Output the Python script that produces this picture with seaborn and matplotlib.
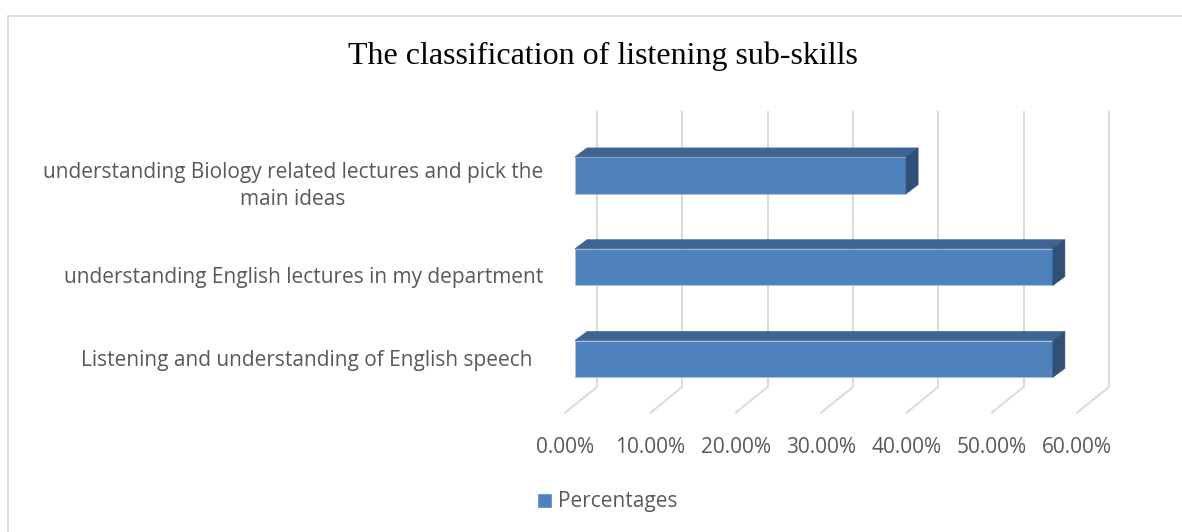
import matplotlib
matplotlib.use("Agg")
import matplotlib.pyplot as plt
import matplotlib.ticker as mticker
from matplotlib.patches import Polygon, Rectangle, Patch
from matplotlib.transforms import offset_copy, ScaledTranslation
import numpy as np
import pandas as pd
import seaborn as sns

# Survey data
skills = [
    "understanding Biology related lectures and pick the\nmain ideas",
    "understanding English lectures in my department",
    "Listening and understanding of English speech",
]
percentages = [0.388, 0.56, 0.56]
series_name = "Percentages"
chart_title = "The classification of listening sub-skills"

BAR_FRONT = "#4F81BD"
BAR_TOP = "#3E6591"
BAR_SIDE = "#2F5077"
GRID = "#D9D9D9"
TEXT = "#595959"
FS = 15

sns.set_theme(style="white")
plt.rcParams["font.family"] = ["Open Sans", "DejaVu Sans"]

W, H, DPI = 1182, 532, 100
fig = plt.figure(figsize=(W / DPI, H / DPI), dpi=DPI)
fig.patch.set_facecolor("white")

# chart-area border (light gray frame)
fig.patches.append(Rectangle((8 / W, -0.2), 1.2, 1.2 - 16 / H,
                             transform=fig.transFigure, fill=False,
                             edgecolor=GRID, linewidth=1.3, zorder=0))

# axes = front plane of the bars
ax = fig.add_axes([575 / W, 1 - 404.8 / H, 512 / W, 275.4 / H])
ax.set_facecolor("none")

df = pd.DataFrame({"skill": skills, "value": percentages})
sns.barplot(data=df, y="skill", x="value", orient="h", width=0.4,
            color=BAR_FRONT, saturation=1, ax=ax, zorder=3,
            edgecolor="#A9C1DF", linewidth=0.6)

ax.set_xlim(0, 0.6)
ax.set_ylim(2.5, -0.5)
ax.set_xticks(np.arange(0, 0.61, 0.1))
ax.xaxis.set_major_formatter(mticker.PercentFormatter(xmax=1, decimals=2))
ax.set_xlabel("")
ax.set_ylabel("")
for s in ax.spines.values():
    s.set_visible(False)
ax.grid(False)
ax.tick_params(axis="both", length=0)
ax.tick_params(axis="x", pad=23, labelsize=FS, labelcolor=TEXT)
ax.tick_params(axis="y", pad=23, labelsize=FS, labelcolor=TEXT)

# depth offsets in pixels
BACK_DX, BACK_DY = 22, 18      # back wall relative to bar front plane
FRONT_DX, FRONT_DY = -10, -8   # front edge of the floor
BAR_DX, BAR_DY = 12, 9         # bar depth

back_tr = offset_copy(ax.transData, fig, x=BACK_DX, y=BACK_DY, units="dots")
ymin, ymax = ax.get_ylim()
for xv in ax.get_xticks():
    # vertical gridline on the back wall
    ax.plot([xv, xv], [ymin, ymax], color=GRID, lw=1.4, transform=back_tr,
            zorder=0, clip_on=False, solid_capstyle="butt")
    # diagonal gridline across the floor
    p_back = ax.transData.transform((xv, ymin)) + [BACK_DX, BACK_DY]
    p_front = ax.transData.transform((xv, ymin)) + [FRONT_DX, FRONT_DY]
    pts = ax.transData.inverted().transform([p_back, p_front])
    ax.plot(pts[:, 0], pts[:, 1], color=GRID, lw=1.4, zorder=0, clip_on=False)

# shift x tick labels to the front edge of the floor
for lab in ax.get_xticklabels():
    lab.set_transform(lab.get_transform() +
                      ScaledTranslation(FRONT_DX / DPI, 0, fig.dpi_scale_trans))

# category labels
ylab_offsets = [(0, -5), (0, -8), (-11, 1)]
for lab, (dx, dy) in zip(ax.get_yticklabels(), ylab_offsets):
    lab.set_multialignment("center")
    lab.set_linespacing(1.4)
    lab.set_transform(lab.get_transform() +
                      ScaledTranslation(dx / DPI, dy / DPI, fig.dpi_scale_trans))

# 3D faces of the bars
inv = ax.transData.inverted()
for p in list(ax.patches):
    x0, y0 = p.get_x(), p.get_y()
    x1, y1 = x0 + p.get_width(), y0 + p.get_height()
    ytop = min(y0, y1)
    ybot = max(y0, y1)
    ftl = ax.transData.transform((x0, ytop))
    ftr = ax.transData.transform((x1, ytop))
    fbr = ax.transData.transform((x1, ybot))
    d = np.array([BAR_DX, BAR_DY])
    top = inv.transform([ftl, ftr, ftr + d, ftl + d])
    side = inv.transform([ftr, fbr, fbr + d, ftr + d])
    ax.add_patch(Polygon(top, closed=True, facecolor=BAR_TOP,
                         edgecolor=BAR_TOP, lw=0.5, zorder=3))
    ax.add_patch(Polygon(side, closed=True, facecolor=BAR_SIDE,
                         edgecolor=BAR_SIDE, lw=0.5, zorder=3))

fig.text(603 / W, 1 - 56 / H, chart_title, ha="center", va="center",
         fontsize=23, color="black", family=["Liberation Serif", "DejaVu Serif"])

fig.legend(handles=[Patch(facecolor=BAR_FRONT, label=series_name)],
           loc="center left", bbox_to_anchor=(537 / W, 1 - 502 / H),
           frameon=False, fontsize=FS, labelcolor=TEXT,
           handlelength=0.7, handleheight=0.7, handletextpad=0.3,
           borderpad=0, borderaxespad=0)

fig.savefig("out.png", dpi=DPI, facecolor="white")
